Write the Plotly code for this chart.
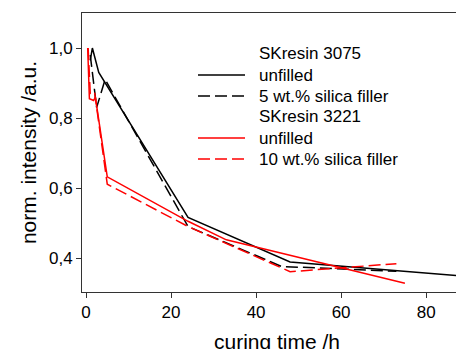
import plotly.graph_objects as go

# SKresin 3075
t_3075_unfilled = [1.0, 1.5, 3.0, 24, 48, 72, 96]
i_3075_unfilled = [0.965, 1.0, 0.93, 0.516, 0.389, 0.365, 0.341]
t_3075_silica = [1.0, 2.5, 4.5, 24, 46, 73]
i_3075_silica = [0.98, 0.83, 0.91, 0.49, 0.376, 0.362]
# SKresin 3221
t_3221_unfilled = [0.4, 0.8, 1.8, 2.2, 5.0, 24, 33, 48, 75]
i_3221_unfilled = [1.0, 0.855, 0.85, 0.86, 0.632, 0.505, 0.452, 0.408, 0.328]
t_3221_silica = [0.5, 1.0, 2.0, 5.0, 24, 48, 73]
i_3221_silica = [1.0, 0.87, 0.875, 0.611, 0.49, 0.361, 0.384]

legend_labels = ["SKresin 3075", "unfilled", "5 wt.% silica filler",
                 "SKresin 3221", "unfilled", "10 wt.% silica filler"]
legend_colors = [None, "#000000", "#000000", None, "#ff0000", "#ff0000"]
legend_dashes = [None, "solid", "12px,5px", None, "solid", "12px,5px"]

y_tickvals = [0.4, 0.6, 0.8, 1.0]
y_ticktext = ["0,4", "0,6", "0,8", "1,0"]
x_tickvals = [0, 20, 40, 60, 80]
x_title = "curing time /h"
y_title = "norm. intensity /a.u."

series = [
    (t_3075_unfilled, i_3075_unfilled, "#000000", "solid", "SKresin 3075 unfilled"),
    (t_3075_silica, i_3075_silica, "#000000", "12px,5px", "SKresin 3075 5 wt.% silica filler"),
    (t_3221_unfilled, i_3221_unfilled, "#ff0000", "solid", "SKresin 3221 unfilled"),
    (t_3221_silica, i_3221_silica, "#ff0000", "12px,5px", "SKresin 3221 10 wt.% silica filler"),
]

fig = go.Figure()
for x, y, c, d, n in series:
    fig.add_trace(go.Scatter(x=x, y=y, mode="lines", name=n,
                             line=dict(color=c, width=1.5, dash=d),
                             showlegend=False))

# page has an 8px body margin: figure spans page x 8..464, y 8..349
OFF = 8
W, H = 464 - OFF, 349 - OFF
ml, mt, mb, mr = 82 - OFF, 13 - OFF, (349 - OFF) - (292 - OFF), 0
pw, ph = W - ml - mr, H - mt - mb
def px(xp):
    return (xp - OFF - ml) / pw
def py(yp):
    return 1 - (yp - OFF - mt) / ph

row_y = [53, 75, 96, 117, 138, 159]
for lab, col, dsh, yy in zip(legend_labels, legend_colors, legend_dashes, row_y):
    if col is not None:
        fig.add_shape(type="line", xref="paper", yref="paper",
                      x0=px(198), x1=px(245), y0=py(yy), y1=py(yy),
                      line=dict(color=col, width=1.5, dash=dsh))
    fig.add_annotation(xref="paper", yref="paper", x=px(257), y=py(yy),
                       text=lab, showarrow=False, xanchor="left", yanchor="middle",
                       font=dict(size=17, color="#000000", family="Liberation Sans, Arial"))

# x-axis title placed a little lower than plotly's margin allows (as in the reference)
fig.add_annotation(xref="paper", yref="paper", x=px(277), y=py(341),
                   text=x_title, showarrow=False, xanchor="center", yanchor="middle",
                   font=dict(size=21, color="#000000", family="Liberation Sans, Arial"))

fig.update_layout(
    width=W, height=H,
    margin=dict(l=ml, r=mr, t=mt, b=mb),
    plot_bgcolor="white", paper_bgcolor="white",
    font=dict(family="Liberation Sans, Arial", color="#000000", size=17),
    showlegend=False,
)
fig.update_xaxes(range=[-0.94, 88.9], tickvals=x_tickvals, automargin=False,
                 ticks="outside", ticklen=5, tickcolor="#333333",
                 showline=True, linecolor="#333333", linewidth=1, mirror=True,
                 showgrid=False, zeroline=False,
                 tickfont=dict(size=17))
fig.update_yaxes(range=[0.303, 1.1], tickvals=y_tickvals, ticktext=y_ticktext,
                 automargin=False,
                 ticks="outside", ticklen=5, tickcolor="#333333",
                 showline=True, linecolor="#333333", linewidth=1,
                 showgrid=False, zeroline=False,
                 title=dict(text=y_title, font=dict(size=21), standoff=6),
                 tickfont=dict(size=17))

fig.write_html("out.html")
